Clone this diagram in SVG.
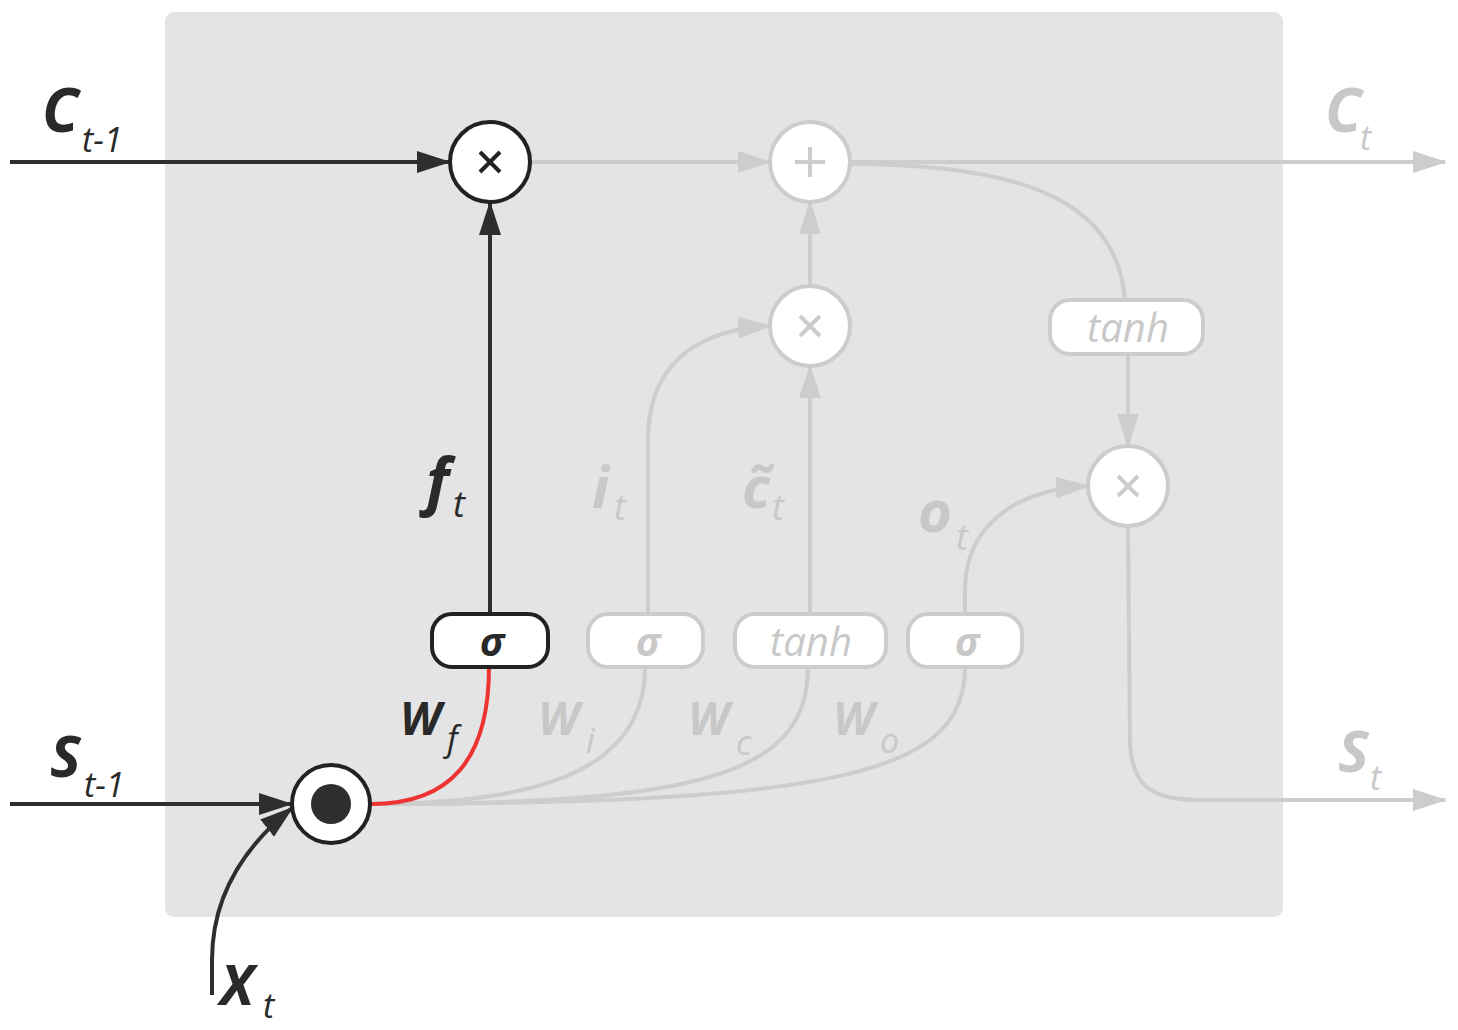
<svg xmlns="http://www.w3.org/2000/svg" width="1458" height="1030" viewBox="0 0 1458 1030">
<defs>
<marker id="ad" markerUnits="userSpaceOnUse" markerWidth="34" markerHeight="26" refX="32" refY="13" orient="auto"><path d="M0,2 L34,13 L0,24 Z" fill="#2e2e2e"/></marker>
<marker id="ag" markerUnits="userSpaceOnUse" markerWidth="34" markerHeight="26" refX="32" refY="13" orient="auto"><path d="M0,2 L34,13 L0,24 Z" fill="#cdcdcd"/></marker>
<style>
.t{font-family:"Open Sans","Liberation Sans",sans-serif;font-style:italic}
.b{font-weight:bold}
.dk{fill:#2a2a2a}
.gy{fill:#c8c8c8}
.ld{fill:none;stroke:#2e2e2e;stroke-width:4}
.lg{fill:none;stroke:#cdcdcd;stroke-width:4}
.lr{fill:none;stroke:#ee3333;stroke-width:4}
.nd{fill:#fff;stroke:#222;stroke-width:4}
.ng{fill:#fff;stroke:#cccccc;stroke-width:4}
</style>
</defs>
<rect x="165" y="12" width="1118" height="905" rx="9" fill="#e4e4e4"/>
<g id="connectors">
<path class="ld" d="M10,162 L449,162" marker-end="url(#ad)"/>
<path class="ld" d="M490,614 L490,203" marker-end="url(#ad)"/>
<path class="lg" d="M531,162 L770,162" marker-end="url(#ag)"/>
<path class="lg" d="M850,162 L1445,162" marker-end="url(#ag)"/>
<path class="lg" d="M810,286 L810,202" marker-end="url(#ag)"/>
<path class="lg" d="M810,614 L810,366" marker-end="url(#ag)"/>
<path class="lg" d="M648,614 L648,440 C648,370 690,330 770,326" marker-end="url(#ag)"/>
<path class="lg" d="M965,614 L965,590 C965,530 1010,490 1088,486" marker-end="url(#ag)"/>
<path class="lg" d="M850,164 C1050,164 1118,215 1125,300"/>
<path class="lg" d="M1128,354 L1128,446" marker-end="url(#ag)"/>
<path class="lg" d="M1128,526 L1130,740 C1131,785 1150,800 1200,800 L1445,800" marker-end="url(#ag)"/>
<path class="lg" d="M371,804 C560,804 645,760 645,667"/>
<path class="lg" d="M371,804 C700,804 808,775 808,667"/>
<path class="lg" d="M371,804 C850,804 965,770 965,667"/>
<path class="lr" d="M371,804 C450,804 489,760 489,667"/>
<path class="ld" d="M10,804 L291,804" marker-end="url(#ad)"/>
<path class="ld" d="M212,995 L212,960 C212,900 240,850 292,808" marker-end="url(#ad)"/>
</g>
<g id="mul_f"><circle class="nd" cx="490" cy="162" r="40"/><path d="M480,152 L500,172 M500,152 L480,172" stroke="#222" stroke-width="4"/></g>
<g id="plus"><circle class="ng" cx="810" cy="162" r="40"/><path d="M810,147 L810,177 M795,162 L825,162" stroke="#cccccc" stroke-width="4"/></g>
<g id="mul_i"><circle class="ng" cx="810" cy="326" r="40"/><path d="M800,316 L820,336 M820,316 L800,336" stroke="#cccccc" stroke-width="4"/></g>
<g id="mul_o"><circle class="ng" cx="1128" cy="486" r="40"/><path d="M1118,476 L1138,496 M1138,476 L1118,496" stroke="#cccccc" stroke-width="4"/></g>
<g id="concat"><circle class="nd" cx="331" cy="804" r="39"/><circle cx="331" cy="804" r="20" fill="#2e2e2e"/></g>
<g id="tanh_c"><rect class="ng" x="1050" y="300" width="153" height="54" rx="20"/><text class="t gy" x="1128" y="342" font-size="40" text-anchor="middle">tanh</text></g>
<g id="sig_f"><rect class="nd" x="432" y="614" width="116" height="53" rx="20"/><text class="t b dk" x="492" y="656" font-size="40" text-anchor="middle">σ</text></g>
<g id="sig_i"><rect class="ng" x="588" y="614" width="115" height="53" rx="20"/><text class="t b gy" x="648" y="656" font-size="40" text-anchor="middle">σ</text></g>
<g id="tanh_g"><rect class="ng" x="735" y="614" width="151" height="53" rx="20"/><text class="t gy" x="811" y="656" font-size="40" text-anchor="middle">tanh</text></g>
<g id="sig_o"><rect class="ng" x="908" y="614" width="114" height="53" rx="20"/><text class="t b gy" x="967" y="656" font-size="40" text-anchor="middle">σ</text></g>
<g id="labels">
<text class="t b dk" x="42" y="132" font-size="60">C</text><text class="t dk" x="82" y="152" font-size="34">t-1</text>
<text class="t b dk" x="50" y="777" font-size="58">S</text><text class="t dk" x="84" y="797" font-size="34">t-1</text>
<text class="t b dk" x="220" y="1005" font-size="56">X</text><text class="t dk" x="263" y="1018" font-size="34">t</text>
<text class="t b dk" x="400" y="735" font-size="46">W</text><text class="t dk" x="447" y="751" font-size="34">f</text>
<text class="t b dk" x="426" y="503" font-size="62">f</text><text class="t dk" x="453" y="517" font-size="36">t</text>
<text class="t b gy" x="592" y="508" font-size="58">i</text><text class="t gy" x="614" y="520" font-size="36">t</text>
<text class="t b gy" x="742" y="508" font-size="58">c̃</text><text class="t gy" x="772" y="520" font-size="36">t</text>
<text class="t b gy" x="918" y="532" font-size="58">o</text><text class="t gy" x="956" y="550" font-size="36">t</text>
<text class="t b gy" x="538" y="735" font-size="46">W</text><text class="t gy" x="586" y="753" font-size="34">i</text>
<text class="t b gy" x="688" y="735" font-size="46">W</text><text class="t gy" x="736" y="755" font-size="34">c</text>
<text class="t b gy" x="833" y="735" font-size="46">W</text><text class="t gy" x="880" y="753" font-size="34">o</text>
<text class="t b gy" x="1325" y="132" font-size="60">C</text><text class="t gy" x="1360" y="150" font-size="34">t</text>
<text class="t b gy" x="1338" y="772" font-size="58">S</text><text class="t gy" x="1370" y="790" font-size="34">t</text>
</g>
</svg>
